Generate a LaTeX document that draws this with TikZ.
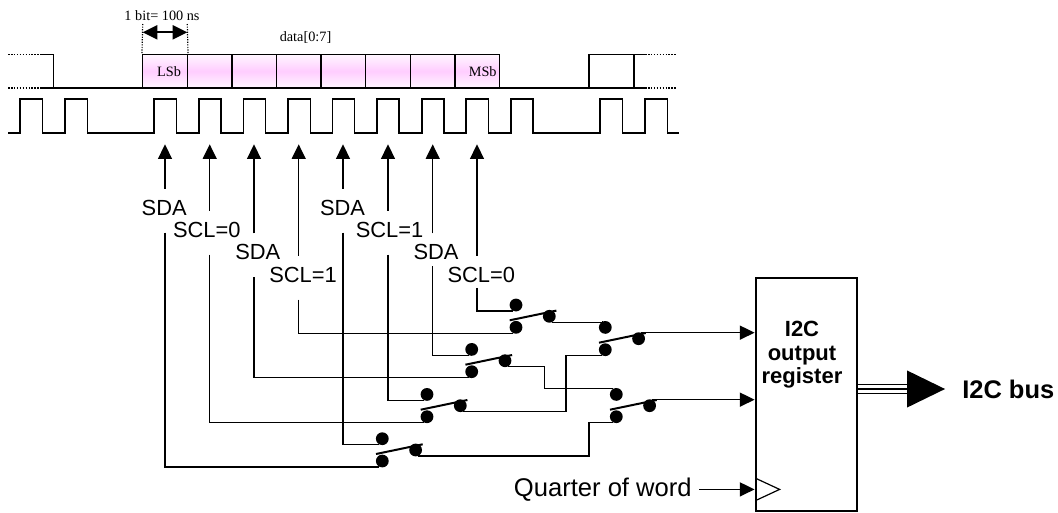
\documentclass[tikz,border=0pt]{standalone}
\usepackage{fontspec}
\setmainfont{Liberation Serif}
\setsansfont{Liberation Sans}
\usepackage{xcolor}
\usetikzlibrary{arrows.meta}
\definecolor{bitpink}{RGB}{255,205,255}
\definecolor{bitpale}{RGB}{255,246,255}

\begin{document}
\begin{tikzpicture}[
    x=0.75pt, y=-0.75pt,
    wave/.style={line width=1.2pt, line join=miter},
    wire/.style={line width=1pt},
    tip/.style={-{Triangle[length=11pt, width=10.5pt]}},
    bitcell/.style={rectangle, draw, line width=1.1pt, minimum width=33.45pt, minimum height=25.1pt, inner sep=0pt, top color=bitpale, bottom color=bitpale, middle color=bitpink},
    dot/.style={circle, fill=black, minimum size=9.6pt, inner sep=0pt},
    blade/.style={line width=1.5pt},
    siglabel/.style={anchor=base, inner sep=0pt, font=\sffamily\fontsize{16.4pt}{18pt}\selectfont, text height=19.5pt, text depth=13pt},
    timelabel/.style={inner sep=0pt, font=\fontsize{10.7pt}{12pt}\selectfont}
]
\useasboundingbox (0,0) rectangle (1058,512);

% Data line
\foreach \i/\bitx in {1/165, 2/209.6, 3/254.2, 4/298.8, 5/343.4, 6/388, 7/432.6, 8/477.3}
    \node[bitcell] (bit\i) at (\bitx, 71.2) {};
\draw[wave] (42,54.5) -- (53.5,54.5) -- (53.5,88) -- (42,88);
\draw[wave] (53.5,88) -- (142.7,88);
\draw[wave] (499.9,88) -- (645,88);
\draw[wave] (588.7,88) -- (588.7,54.5) -- (645,54.5);
\draw[wave] (633.7,54.5) -- (633.7,88);
\draw[wave, densely dotted] (8,54.5) -- (42,54.5);
\draw[wave, densely dotted] (8,88) -- (42,88);
\draw[wave, densely dotted] (645,54.5) -- (676,54.5);
\draw[wave, densely dotted] (645,88) -- (676,88);
\node[timelabel] (lsb) at (169,72) {LSb};
\node[timelabel] (msb) at (482.7,72) {MSb};

% Clock line
\draw[wave] (8,132.7) foreach \clkx in {20, 65, 154, 198.7, 243.3, 288, 332.3, 376.7, 421.7, 466, 510.7, 600, 645} {
    -- (\clkx,132.7) -- (\clkx,99) -- (\clkx+22.3,99) -- (\clkx+22.3,132.7)} -- (679,132.7);

% Bit time
\node[timelabel] (bittime) at (162,15.7) {1 bit= 100 ns};
\node[timelabel] (datalabel) at (305.5,37.7) {data[0:7]};
\coordinate (mark1) at (142.7,24);
\coordinate (mark2) at (187.3,24);
\draw[line width=0.9pt, densely dotted] (mark1) -- (bit1.north west);
\draw[line width=0.9pt, densely dotted] (mark2) -- (bit1.north east);
\draw[line width=1.4pt, {Triangle[length=11pt, width=10.5pt]}-{Triangle[length=11pt, width=10.5pt]}] (142.7,32.3) -- (187.3,32.3);

% Sample labels
\node[siglabel] (sda1) at (164.2,215) {SDA};
\node[siglabel] (scl1) at (206.8,237) {SCL=0};
\node[siglabel] (sda2) at (257.8,259.7) {SDA};
\node[siglabel] (scl2) at (303,282) {SCL=1};
\node[siglabel] (sda3) at (342.5,215) {SDA};
\node[siglabel] (scl3) at (389.5,237) {SCL=1};
\node[siglabel, text depth=4.7pt] (sda4) at (436,259.7) {SDA};
\node[siglabel, text depth=4.2pt] (scl4) at (481.3,282) {SCL=0};

% Switches
\foreach \sw/\swx/\swy in {1/382.3/461, 2/427/416.7, 3/471.7/371.7, 4/516/327.3, 5/605.3/349.7, 6/616.3/416.7} {
    \node[dot] (t\sw) at (\swx, \swy-22.3) {};
    \node[dot] (b\sw) at (\swx, \swy) {};
    \node[dot] (r\sw) at (\swx+33.3, \swy-11) {};
    \draw[blade] (\swx-6.3, \swy-7) -- (\swx+40.4, \swy-16.7);
}

% Sample arrows and wires to the first switches
\foreach \n/\arrx/\lbl/\sink in {1/165/sda1/b1.245, 2/209.7/scl1/b2.245, 3/254/sda2/b3.245, 4/298.7/scl2/b4.245, 5/343/sda3/t1.245, 6/388/scl3/t2.245, 7/432.7/sda4/t3.245, 8/477/scl4/t4.245} {
    \coordinate (head\n) at (\arrx,144.3);
    \draw[wire, tip] (\lbl.north -| head\n) -- (head\n);
    \draw[wire] (\lbl.south -| head\n) |- (\sink);
}

% Register
\node[rectangle, draw, line width=1.6pt, minimum width=76pt, minimum height=174.9pt, inner sep=0pt] (reg) at (806.3,394.2) {};
\node[align=center, inner sep=0pt, font=\sffamily\bfseries\fontsize{16.5pt}{17.6pt}\selectfont] (reglabel) at (802,355) {I2C\\output\\register};
\draw[line width=0.9pt] (755.7,478.3) -- (779.6,489.4) -- (755.7,500.5);

% Wires between switches
\coordinate (j1) at (589,0);
\coordinate (j2) at (566,0);
\coordinate (j3) at (544.3,0);
\draw[wire] (r1.295) -| (j1 |- b6.245) -- (b6.245);
\draw[wire] (r2.295) -| (j2 |- b5.245) -- (b5.245);
\draw[wire] (r3.295) -| (j3 |- t6.115) -- (t6.115);
\draw[wire] (r4.295) -- (r4.295 -| t5.115) -- (t5.115);
\draw[wire, tip] (r5.65) -- (r5.65 -| reg.west);
\draw[wire, tip] (r6.65) -- (r6.65 -| reg.west);

% Clock input
\node[inner sep=0pt, font=\sffamily\fontsize{19.2pt}{22pt}\selectfont] (quarter) at (602.8,490) {Quarter of word};
\coordinate (clkin) at (699,489.4);
\draw[wire, tip] (clkin) -- (clkin -| reg.west);

% Bus
\node[inner sep=0pt, anchor=west, font=\sffamily\bfseries\fontsize{19.1pt}{22pt}\selectfont] (busl) at (962,389) {I2C bus};
\draw[wave, shorten >=12.7pt, -{Triangle[length=28.5pt, width=27.5pt]}] (reg.east |- busl) -- (busl.west);
\draw[wave] ([yshift=3.4pt]reg.east |- busl) -- ++(50,0);
\draw[wave] ([yshift=-3.4pt]reg.east |- busl) -- ++(50,0);

\end{tikzpicture}
\end{document}
